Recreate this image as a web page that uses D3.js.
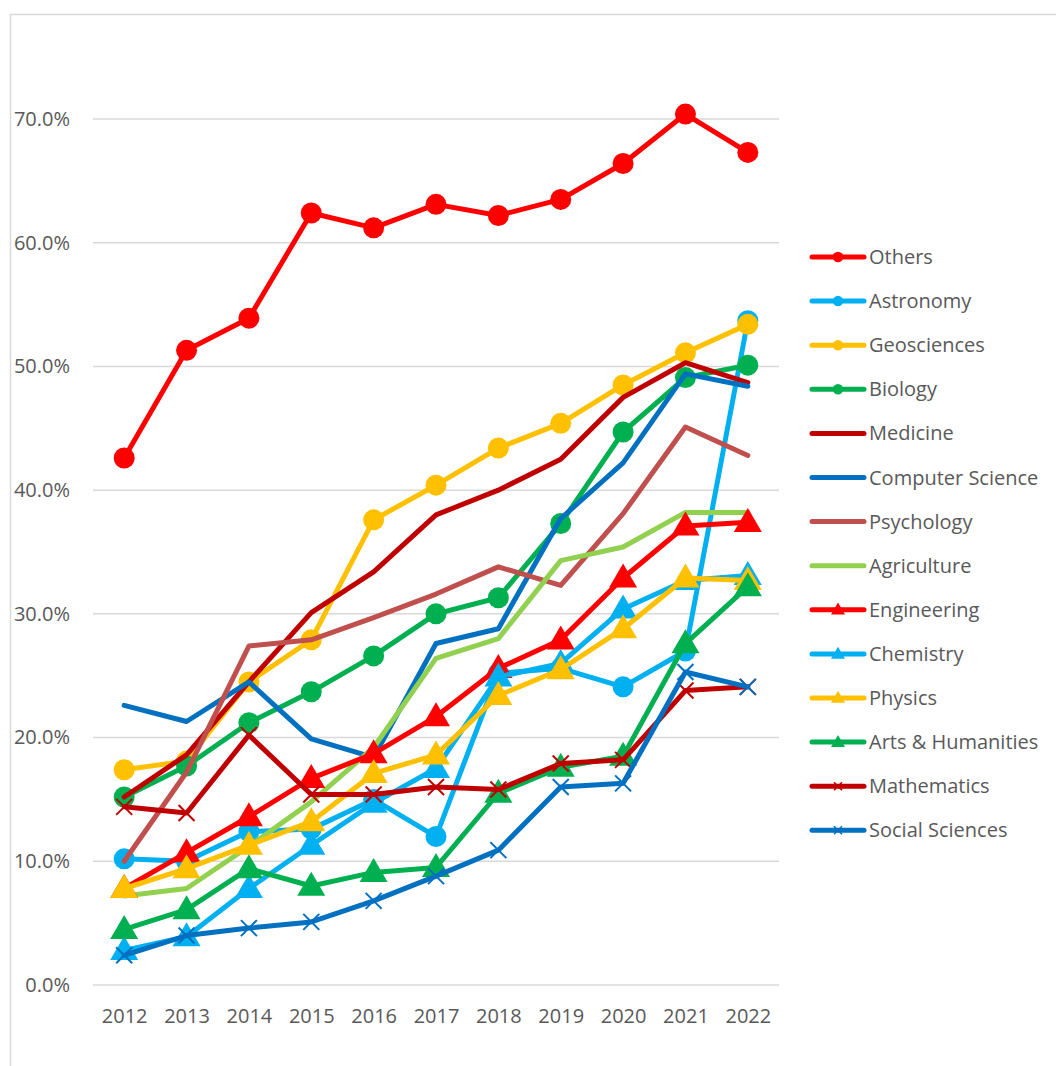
<!DOCTYPE html>
<html>
<head>
<meta charset="utf-8">
<script src="https://cdn.jsdelivr.net/npm/d3@7"></script>
<style>
  body { margin: 0; background: #fff; }
  text { font-family: "Open Sans", "Noto Sans", sans-serif; fill: #595959; }
</style>
</head>
<body>
<div id="chart"></div>
<script>
// categories
var years = ["2012","2013","2014","2015","2016","2017","2018","2019","2020","2021","2022"];

// series values (percent)
var others      = [42.6, 51.3, 53.9, 62.4, 61.2, 63.1, 62.2, 63.5, 66.4, 70.4, 67.3];
var astronomy   = [10.2, 10.0, 12.4, 12.6, 15.0, 12.0, 25.2, 25.6, 24.1, 27.0, 53.7];
var geosciences = [17.4, 18.1, 24.5, 27.9, 37.6, 40.4, 43.4, 45.4, 48.5, 51.1, 53.4];
var biology     = [15.2, 17.7, 21.2, 23.7, 26.6, 30.0, 31.3, 37.3, 44.7, 49.1, 50.1];
var medicine    = [15.2, 18.6, 24.5, 30.1, 33.4, 38.0, 40.0, 42.5, 47.5, 50.3, 48.7];
var compsci     = [22.6, 21.3, 24.5, 19.9, 18.4, 27.6, 28.8, 37.7, 42.2, 49.4, 48.4];
var psychology  = [10.0, 17.2, 27.4, 27.9, 29.7, 31.6, 33.8, 32.3, 38.1, 45.1, 42.8];
var agriculture = [7.2, 7.8, 11.2, 14.8, 19.2, 26.4, 28.0, 34.3, 35.4, 38.2, 38.2];
var engineering = [7.8, 10.7, 13.6, 16.7, 18.7, 21.7, 25.6, 27.9, 32.9, 37.1, 37.4];
var chemistry   = [2.8, 3.9, 7.8, 11.3, 14.7, 17.5, 24.9, 26.0, 30.4, 32.7, 33.1];
var physics     = [7.8, 9.4, 11.3, 13.2, 17.1, 18.6, 23.4, 25.5, 28.8, 32.9, 32.7];
var arts        = [4.5, 6.1, 9.4, 8.0, 9.1, 9.5, 15.5, 17.6, 18.5, 27.6, 32.2];
var mathematics = [14.4, 13.9, 20.2, 15.4, 15.4, 16.0, 15.8, 17.9, 18.2, 23.8, 24.1];
var socialsci   = [2.4, 4.0, 4.6, 5.1, 6.8, 8.8, 10.9, 16.0, 16.3, 25.3, 24.1];

var yTicks = [0, 10, 20, 30, 40, 50, 60, 70];

var series = [
  {name: "Others",            values: others,      color: "#FF0000", marker: "circle"},
  {name: "Astronomy",         values: astronomy,   color: "#00B0F0", marker: "circle"},
  {name: "Geosciences",       values: geosciences, color: "#FFC000", marker: "circle"},
  {name: "Biology",           values: biology,     color: "#00B050", marker: "circle"},
  {name: "Medicine",          values: medicine,    color: "#C00000", marker: "none"},
  {name: "Computer Science",  values: compsci,     color: "#0070C0", marker: "none"},
  {name: "Psychology",        values: psychology,  color: "#C0504D", marker: "none"},
  {name: "Agriculture",       values: agriculture, color: "#92D050", marker: "none"},
  {name: "Engineering",       values: engineering, color: "#FF0000", marker: "triangle"},
  {name: "Chemistry",         values: chemistry,   color: "#00B0F0", marker: "triangle"},
  {name: "Physics",           values: physics,     color: "#FFC000", marker: "triangle"},
  {name: "Arts & Humanities", values: arts,        color: "#00B050", marker: "triangle"},
  {name: "Mathematics",       values: mathematics, color: "#C00000", marker: "cross"},
  {name: "Social Sciences",   values: socialsci,   color: "#0070C0", marker: "cross"}
];

var W = 1056, H = 1066;
var svg = d3.select("#chart").append("svg")
  .attr("width", W).attr("height", H);

// chart border
svg.append("rect")
  .attr("x", 10.5).attr("y", 14.5)
  .attr("width", W).attr("height", H)
  .attr("fill", "none").attr("stroke", "#d9d9d9").attr("stroke-width", 1.5);

// scales
var x = d3.scalePoint().domain(years).range([93, 779]).padding(0.5);
var y = d3.scaleLinear().domain([0, 70]).range([985, 119]);

// gridlines
svg.append("g").selectAll("line")
  .data(yTicks)
  .enter().append("line")
  .attr("x1", 93).attr("x2", 779)
  .attr("y1", function(d) { return y(d); })
  .attr("y2", function(d) { return y(d); })
  .attr("stroke", "#d9d9d9").attr("stroke-width", 1.5);

// y axis labels
var yAxis = d3.axisLeft(y).tickValues(yTicks)
  .tickFormat(function(d) { return d.toFixed(1) + "%"; })
  .tickSize(0).tickPadding(0);
var gy = svg.append("g").attr("transform", "translate(70,0)").call(yAxis);
gy.select(".domain").remove();
gy.selectAll("text").style("font-size", "20px").attr("fill", "#595959");

// x axis labels
var xAxis = d3.axisBottom(x).tickSize(0).tickPadding(0);
var gx = svg.append("g").attr("transform", "translate(0,1009)").call(xAxis);
gx.select(".domain").remove();
gx.selectAll("text").style("font-size", "20px").attr("fill", "#595959");

var line = d3.line()
  .x(function(d, i) { return x(years[i]); })
  .y(function(d) { return y(d); });

function drawMarker(g, type, color, cx, cy, s) {
  if (type === "circle") {
    g.append("circle").attr("cx", cx).attr("cy", cy).attr("r", 10.5 * s).attr("fill", color);
  } else if (type === "triangle") {
    var w = 14 * s, h = 24 * s;
    g.append("path")
      .attr("d", "M" + cx + "," + (cy - h * 0.6) + "L" + (cx + w) + "," + (cy + h * 0.4) + "L" + (cx - w) + "," + (cy + h * 0.4) + "Z")
      .attr("fill", color);
  } else if (type === "cross") {
    var r = 8 * s;
    g.append("path")
      .attr("d", "M" + (cx - r) + "," + (cy - r) + "L" + (cx + r) + "," + (cy + r) + "M" + (cx + r) + "," + (cy - r) + "L" + (cx - r) + "," + (cy + r))
      .attr("stroke", color).attr("stroke-width", 2 * Math.max(s, 0.8)).attr("fill", "none");
  }
}

// draw series in order, each with its markers
series.forEach(function(s) {
  var g = svg.append("g");
  g.append("path")
    .datum(s.values)
    .attr("d", line)
    .attr("fill", "none")
    .attr("stroke", s.color)
    .attr("stroke-width", 5)
    .attr("stroke-linejoin", "round")
    .attr("stroke-linecap", "round");
  s.values.forEach(function(v, i) {
    drawMarker(g, s.marker, s.color, x(years[i]), y(v), 1);
  });
});

// legend
var legend = svg.append("g");
series.forEach(function(s, i) {
  var ly = 257 + i * 44.1;
  var g = legend.append("g");
  g.append("line")
    .attr("x1", 812).attr("x2", 864)
    .attr("y1", ly).attr("y2", ly)
    .attr("stroke", s.color).attr("stroke-width", 5)
    .attr("stroke-linecap", "round");
  drawMarker(g, s.marker, s.color, 838, ly, 0.5);
  g.append("text")
    .attr("x", 869).attr("y", ly)
    .attr("dy", "0.35em")
    .style("font-size", "20px")
    .text(s.name);
});
</script>
</body>
</html>
